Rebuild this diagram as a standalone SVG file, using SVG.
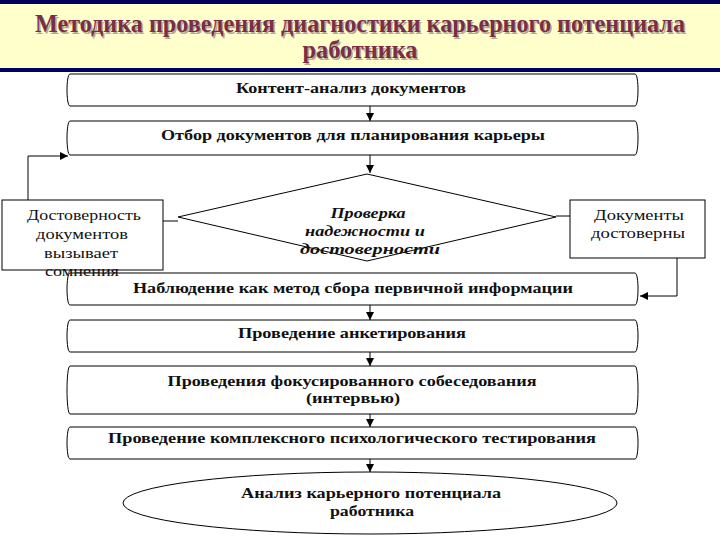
<svg xmlns="http://www.w3.org/2000/svg" width="720" height="540" viewBox="0 0 720 540">
<defs>
<marker id="ah" viewBox="0 0 8 8" refX="8" refY="4" markerWidth="8" markerHeight="8" markerUnits="userSpaceOnUse" orient="auto">
<path d="M0,0 L8,4 L0,8 z" fill="#000"/>
</marker>
</defs>
<style>
.shape{fill:#fff;stroke:#000;stroke-width:1}
.con{fill:none;stroke:#000;stroke-width:1}
.bt{font-weight:bold;font-size:14px;fill:#111;text-anchor:middle}
.it{font-weight:bold;font-style:italic;font-size:15px;fill:#111;text-anchor:middle}
.rt{font-size:15px;fill:#111;text-anchor:middle}
.tt{font-weight:bold;font-size:25px;text-anchor:middle}
</style>
<rect x="0" y="0" width="720" height="540" fill="#fff"/>
<g font-family="Liberation Serif, Times New Roman, serif">
<g id="title">
<rect x="0" y="0" width="720" height="72" fill="#000060"/>
<rect x="0" y="4" width="720" height="64" fill="#FFFFCC"/>
<text class="tt" x="361.5" y="33.5" fill="#b8a898" textLength="650" lengthAdjust="spacingAndGlyphs">Методика проведения диагностики карьерного потенциала</text>
<text class="tt" x="361.5" y="59.5" fill="#b8a898" textLength="115" lengthAdjust="spacingAndGlyphs">работника</text>
<text class="tt" x="360" y="32" fill="#7A2E45" textLength="650" lengthAdjust="spacingAndGlyphs">Методика проведения диагностики карьерного потенциала</text>
<text class="tt" x="360" y="58" fill="#7A2E45" textLength="115" lengthAdjust="spacingAndGlyphs">работника</text>
</g>
<g id="connectors">
<line class="con" x1="370" y1="106" x2="370" y2="121" marker-end="url(#ah)"/>
<line class="con" x1="370" y1="155" x2="370" y2="173" marker-end="url(#ah)"/>
<line class="con" x1="370" y1="305" x2="370" y2="320" marker-end="url(#ah)"/>
<line class="con" x1="370" y1="352" x2="370" y2="366" marker-end="url(#ah)"/>
<line class="con" x1="370" y1="414" x2="370" y2="427" marker-end="url(#ah)"/>
<line class="con" x1="370" y1="459" x2="370" y2="472" marker-end="url(#ah)"/>
<line class="con" x1="163" y1="221" x2="178" y2="221"/>
<line class="con" x1="556" y1="216" x2="570" y2="216"/>
<polyline class="con" points="28,200 28,156 68,156" marker-end="url(#ah)"/>
<polyline class="con" points="677,258 677,296 640,296" marker-end="url(#ah)"/>
</g>
<g id="n1">
<path class="shape" d="M70,74 L635,74 C639,74 639,106 635,106 L70,106 C66,106 66,74 70,74 Z"/>
<text class="bt" x="351" y="93" textLength="230" lengthAdjust="spacingAndGlyphs">Контент-анализ документов</text>
</g>
<g id="n2">
<path class="shape" d="M70,121 L635,121 C639,121 639,155 635,155 L70,155 C66,155 66,121 70,121 Z"/>
<text class="bt" x="353" y="140" textLength="384" lengthAdjust="spacingAndGlyphs">Отбор документов для планирования карьеры</text>
</g>
<g id="n3">
<path class="shape" d="M367,174 L556,217 L367,261 L178,217 Z"/>
<text class="it" x="368" y="218" textLength="75" lengthAdjust="spacingAndGlyphs">Проверка</text>
<text class="it" x="365" y="236" textLength="120" lengthAdjust="spacingAndGlyphs">надежности и</text>
<text class="it" x="370" y="254" textLength="140" lengthAdjust="spacingAndGlyphs">достоверности</text>
</g>
<g id="n5">
<rect class="shape" x="570" y="200" width="135" height="58"/>
<text class="rt" x="639" y="220" textLength="90" lengthAdjust="spacingAndGlyphs">Документы</text>
<text class="rt" x="638" y="238" textLength="94" lengthAdjust="spacingAndGlyphs">достоверны</text>
</g>
<g id="n6">
<path class="shape" d="M70,273 L635,273 C639,273 639,305 635,305 L70,305 C66,305 66,273 70,273 Z"/>
<text class="bt" x="353" y="293" textLength="440" lengthAdjust="spacingAndGlyphs">Наблюдение как метод сбора первичной информации</text>
</g>
<g id="n4">
<rect class="shape" x="2" y="200" width="161" height="70"/>
<text class="rt" x="84" y="220" textLength="114" lengthAdjust="spacingAndGlyphs">Достоверность</text>
<text class="rt" x="82" y="239" textLength="92" lengthAdjust="spacingAndGlyphs">документов</text>
<text class="rt" x="81" y="258" textLength="74" lengthAdjust="spacingAndGlyphs">вызывает</text>
<text class="rt" x="82" y="276" textLength="74" lengthAdjust="spacingAndGlyphs">сомнения</text>
</g>
<g id="n7">
<path class="shape" d="M70,320 L635,320 C639,320 639,352 635,352 L70,352 C66,352 66,320 70,320 Z"/>
<text class="bt" x="352" y="338" textLength="228" lengthAdjust="spacingAndGlyphs">Проведение анкетирования</text>
</g>
<g id="n8">
<path class="shape" d="M70,366 L635,366 C639,366 639,414 635,414 L70,414 C66,414 66,366 70,366 Z"/>
<text class="bt" x="352" y="386" textLength="369" lengthAdjust="spacingAndGlyphs">Проведения фокусированного собеседования</text>
<text class="bt" x="353" y="403" textLength="94" lengthAdjust="spacingAndGlyphs">(интервью)</text>
</g>
<g id="n9">
<path class="shape" d="M70,427 L635,427 C639,427 639,459 635,459 L70,459 C66,459 66,427 70,427 Z"/>
<text class="bt" x="352" y="443" textLength="488" lengthAdjust="spacingAndGlyphs">Проведение комплексного психологического тестирования</text>
</g>
<g id="n10">
<ellipse class="shape" cx="370" cy="503" rx="247" ry="31"/>
<text class="bt" x="371" y="498" textLength="260" lengthAdjust="spacingAndGlyphs">Анализ карьерного потенциала</text>
<text class="bt" x="372" y="516" textLength="84" lengthAdjust="spacingAndGlyphs">работника</text>
</g>
</g>
</svg>
